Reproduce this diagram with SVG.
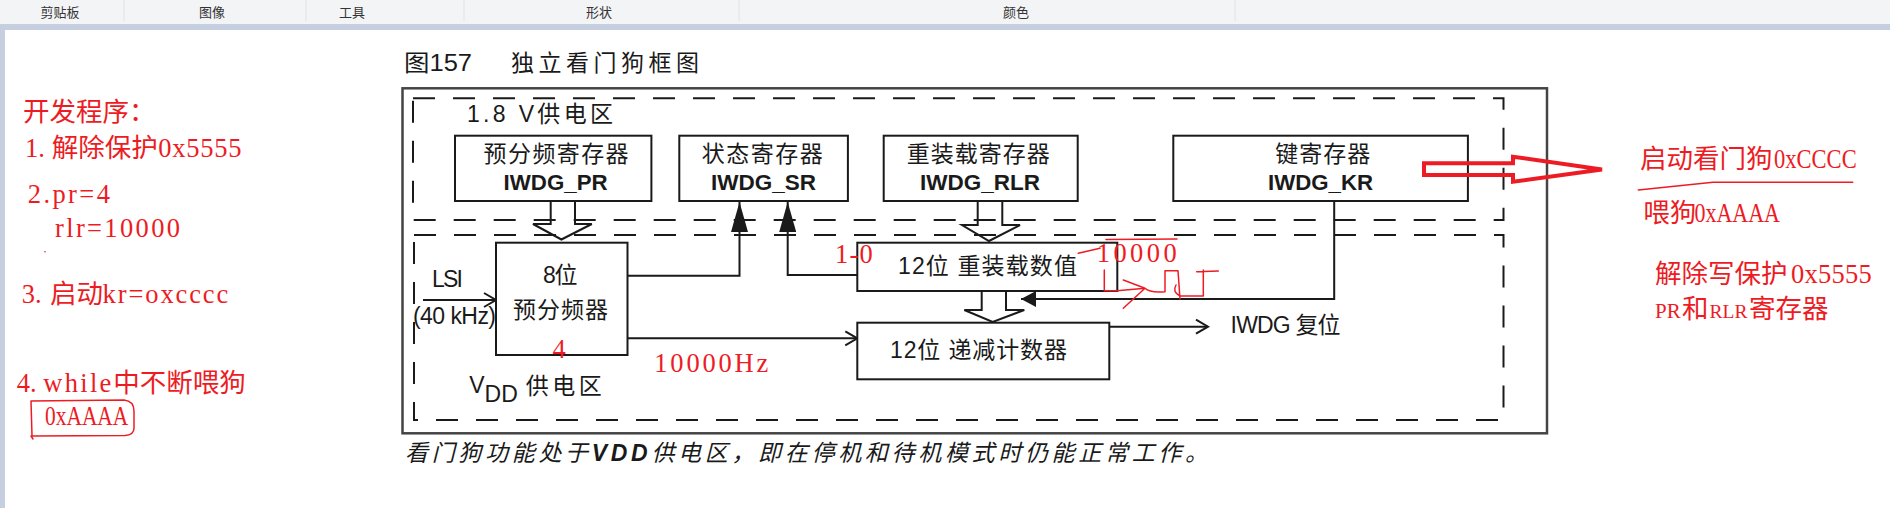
<svg xmlns="http://www.w3.org/2000/svg" width="1890" height="508" viewBox="0 0 1890 508">
<style>
.tb{font-family:"Noto Sans CJK SC",sans-serif;font-size:13px;fill:#333;text-anchor:middle}
.t{font-family:"Liberation Sans","Noto Sans CJK SC",sans-serif;fill:#1a1a1a;font-size:23px}
.b{font-weight:bold;font-size:22px}
.box{fill:#fff;stroke:#1a1a1a;stroke-width:2}
.dash{fill:none;stroke:#1a1a1a;stroke-width:2;stroke-dasharray:22 18}
.ln{fill:none;stroke:#1a1a1a;stroke-width:2}
.red{font-family:"Liberation Serif","Noto Sans CJK SC",serif;fill:#ed1c24;font-size:26.5px}
.rl{fill:none;stroke:#ed1c24;stroke-width:1.5;stroke-linejoin:round;stroke-linecap:round}
</style>
<defs>
<marker id="tri" markerUnits="userSpaceOnUse" viewBox="0 0 30 17" markerWidth="30" markerHeight="17" refX="30" refY="8.5" orient="auto">
<path d="M0,0 L30,8.5 L0,17 Z" fill="#1a1a1a"/>
</marker>
<marker id="tri2" markerUnits="userSpaceOnUse" viewBox="0 0 15 16" markerWidth="15" markerHeight="16" refX="15" refY="8" orient="auto">
<path d="M0,0 L15,8 L0,16 Z" fill="#1a1a1a"/>
</marker>
<marker id="chev" markerUnits="userSpaceOnUse" viewBox="0 0 14 16" markerWidth="14" markerHeight="16" refX="13" refY="8" orient="auto" overflow="visible">
<path d="M1,1 L13,8 L1,15" fill="none" stroke="#1a1a1a" stroke-width="2"/>
</marker>
</defs>
<rect x="0" y="0" width="1890" height="508" fill="#fff"/>
<g id="toolbar">
<rect x="0" y="0" width="1890" height="24" fill="#f3f4f6"/>
<rect x="0" y="24" width="1890" height="6" fill="#c5cfe0"/>
<rect x="0" y="24" width="5" height="484" fill="#c5cfe0"/>
<g stroke="#e0e3e8" stroke-width="1">
<line x1="124" y1="0" x2="124" y2="21"/><line x1="306" y1="0" x2="306" y2="21"/><line x1="464" y1="0" x2="464" y2="21"/><line x1="739" y1="0" x2="739" y2="21"/><line x1="1235" y1="0" x2="1235" y2="21"/>
</g>
<text class="tb" x="60" y="17">剪贴板</text>
<text class="tb" x="212" y="17">图像</text>
<text class="tb" x="352" y="17">工具</text>
<text class="tb" x="599" y="17">形状</text>
<text class="tb" x="1016" y="17">颜色</text>
</g>
<g id="title">
<text class="t" x="404" y="71" font-size="26" textLength="68" lengthAdjust="spacingAndGlyphs">图157</text>
<text class="t" x="511" y="71" font-size="27" textLength="188" lengthAdjust="spacing">独立看门狗框图</text>
</g>
<g id="frames">
<rect x="402.5" y="88.3" width="1144.5" height="345" fill="none" stroke="#444" stroke-width="2.5"/>
<rect class="dash" x="413" y="98.3" width="1090.5" height="121.7"/>
<rect class="dash" x="414" y="235" width="1089.5" height="185"/>
<text class="t" x="467" y="121.5" font-size="27" textLength="146" lengthAdjust="spacing">1.8 V供电区</text>
<text class="t" x="469.3" y="393.3" font-size="24">V</text>
<text class="t" x="484.6" y="401.7" font-size="21">DD</text>
<text class="t" x="525.7" y="394" font-size="25" textLength="76" lengthAdjust="spacing">供电区</text>
</g>
<g id="connectors">
<path class="ln" d="M550.7,201 V224 H533 L561.4,239.5 L591.8,224 H575 V201"/>
<path class="ln" d="M977.7,201 V225 H962 L989,241 L1020,225 H1002.3 V201"/>
<path class="ln" d="M981.7,291 V310 H964.3 L992.7,322 L1024.3,310 H1006 V291"/>
<path class="ln" d="M627.5,275.7 H739.5 V202" marker-end="url(#tri)"/>
<path class="ln" d="M857.3,275 H787.7 V202" marker-end="url(#tri)"/>
<path class="ln" d="M1334.2,201 V299 H1021" marker-end="url(#tri2)"/>
<path class="ln" d="M423,300 H496" marker-end="url(#chev)"/>
<path class="ln" d="M627.5,338.3 H857.3" marker-end="url(#chev)"/>
<path class="ln" d="M1109.3,326.7 H1208" marker-end="url(#chev)"/>
<text class="t" x="432" y="286.7" font-size="21" textLength="31" lengthAdjust="spacing">LSI</text>
<text class="t" x="413" y="324" font-size="21" textLength="83" lengthAdjust="spacing">(40 kHz)</text>
<text class="t" x="1230.6" y="333.3" font-size="21" textLength="110" lengthAdjust="spacing">IWDG 复位</text>
</g>
<g id="node-pr">
<rect class="box" x="455" y="135.7" width="196.4" height="65.3"/>
<text class="t" x="483.6" y="161.5" textLength="145" lengthAdjust="spacing">预分频寄存器</text>
<text class="t b" x="503.6" y="190" textLength="104" lengthAdjust="spacingAndGlyphs">IWDG_PR</text>
</g>
<g id="node-sr">
<rect class="box" x="679.3" y="135.7" width="168.6" height="65.3"/>
<text class="t" x="701.7" y="161.5" textLength="121" lengthAdjust="spacing">状态寄存器</text>
<text class="t b" x="711" y="190" textLength="105" lengthAdjust="spacingAndGlyphs">IWDG_SR</text>
</g>
<g id="node-rlr">
<rect class="box" x="883.7" y="135.7" width="194" height="65.3"/>
<text class="t" x="906.7" y="161.5" textLength="143" lengthAdjust="spacing">重装载寄存器</text>
<text class="t b" x="920" y="190" textLength="120" lengthAdjust="spacingAndGlyphs">IWDG_RLR</text>
</g>
<g id="node-kr">
<rect class="box" x="1173.3" y="135.7" width="294.6" height="65.3"/>
<text class="t" x="1275.3" y="161.5" textLength="95" lengthAdjust="spacing">键寄存器</text>
<text class="t b" x="1268" y="190" textLength="105" lengthAdjust="spacingAndGlyphs">IWDG_KR</text>
</g>
<g id="node-prescaler">
<rect class="box" x="496" y="242.7" width="131.5" height="112.3"/>
<text class="t" x="542.9" y="283.3" textLength="34.6" lengthAdjust="spacing">8位</text>
<text class="t" x="513" y="318" textLength="95" lengthAdjust="spacing">预分频器</text>
</g>
<g id="node-reload">
<rect class="box" x="857.3" y="242.7" width="260" height="48.3"/>
<text class="t" x="898" y="274" font-size="21.5" textLength="179" lengthAdjust="spacing">12位 重装载数值</text>
</g>
<g id="node-counter">
<rect class="box" x="857.3" y="322.7" width="252" height="56.6"/>
<text class="t" x="890" y="358.3" font-size="21.5" textLength="177" lengthAdjust="spacing">12位 递减计数器</text>
</g>
<g id="caption">
<text class="t" x="405" y="461" font-size="28" font-style="italic" textLength="803" lengthAdjust="spacing">看门狗功能处于<tspan font-weight="bold">VDD</tspan>供电区，即在停机和待机模式时仍能正常工作。</text>
</g>
<g id="notes-left">
<text class="red" x="23" y="121">开发程序：</text>
<text class="red" y="156.5"><tspan x="25">1.</tspan><tspan x="51.7">解除保护</tspan><tspan x="158.3" textLength="83.3" lengthAdjust="spacing">0x5555</tspan></text>
<text class="red" x="27.7" y="203" textLength="82.3" lengthAdjust="spacing">2.pr=4</text>
<text class="red" x="55" y="236.7" textLength="125" lengthAdjust="spacing">rlr=10000</text>
<circle cx="45" cy="251.7" r="0.8" fill="#ed1c24"/>
<text class="red" y="303.3"><tspan x="21.7">3.</tspan><tspan x="50">启动</tspan><tspan x="102.5" textLength="125.8" lengthAdjust="spacing">kr=oxcccc</tspan></text>
<text class="red" y="391.7"><tspan x="16.7">4.</tspan><tspan x="43.3" textLength="68" lengthAdjust="spacing">while</tspan><tspan x="113.3">中不断喂狗</tspan></text>
<text class="red" x="45" y="425" textLength="83.3" lengthAdjust="spacingAndGlyphs">0xAAAA</text>
<path class="rl" d="M31,401 L124,400 Q134,401 134,411 L134,428 Q134,435 125,435.5 L32,436 L31,401 M31,436 L33,439"/>
</g>
<g id="notes-right">
<polygon points="1424,163.3 1513,163.3 1513,156.7 1602,169.5 1513,181.7 1513,175 1424,175" fill="none" stroke="#ed1c24" stroke-width="4" stroke-linejoin="miter"/>
<text class="red" y="168.3"><tspan x="1640">启动看门狗</tspan><tspan x="1774" textLength="82.7" lengthAdjust="spacingAndGlyphs">0xCCCC</tspan></text>
<path class="rl" d="M1638.3,190 L1713,182.3 L1852.7,182.3"/>
<text class="red" y="221.7"><tspan x="1643.3">喂狗</tspan><tspan x="1694.5" textLength="85.5" lengthAdjust="spacingAndGlyphs">0xAAAA</tspan></text>
<text class="red" y="283.3"><tspan x="1655">解除写保护</tspan><tspan x="1791" textLength="80.7" lengthAdjust="spacing">0x5555</tspan></text>
<text class="red" y="318.3"><tspan x="1655" font-size="21">PR</tspan><tspan x="1682">和</tspan><tspan x="1709.5" font-size="19.5">RLR</tspan><tspan x="1749">寄存器</tspan></text>
</g>
<g id="notes-diagram">
<text class="red" x="552.5" y="358" font-size="29">4</text>
<text class="red" x="654.3" y="371.7" font-size="31" textLength="114" lengthAdjust="spacing">10000Hz</text>
<text class="red" x="835" y="262.7" font-size="21" textLength="37.7" lengthAdjust="spacing">1-0</text>
<text class="red" x="1096.7" y="261.7" font-size="34" textLength="80" lengthAdjust="spacing">10000</text>
<path class="rl" d="M1078.3,253.3 L1100,248.3 M1106,239.5 L1177,239"/>
<path class="rl" d="M1104.3,270 V290.7 H1117 L1145,288.3 M1123.3,280 L1145,288.3 L1123.3,308.3 M1145,288.3 Q1150,293 1165,291.7 V270.7 H1178 L1180,299 M1176,285 Q1172,292 1180,296 H1203.3 V270 M1196.7,271.7 L1218.3,271"/>
</g>
</svg>
